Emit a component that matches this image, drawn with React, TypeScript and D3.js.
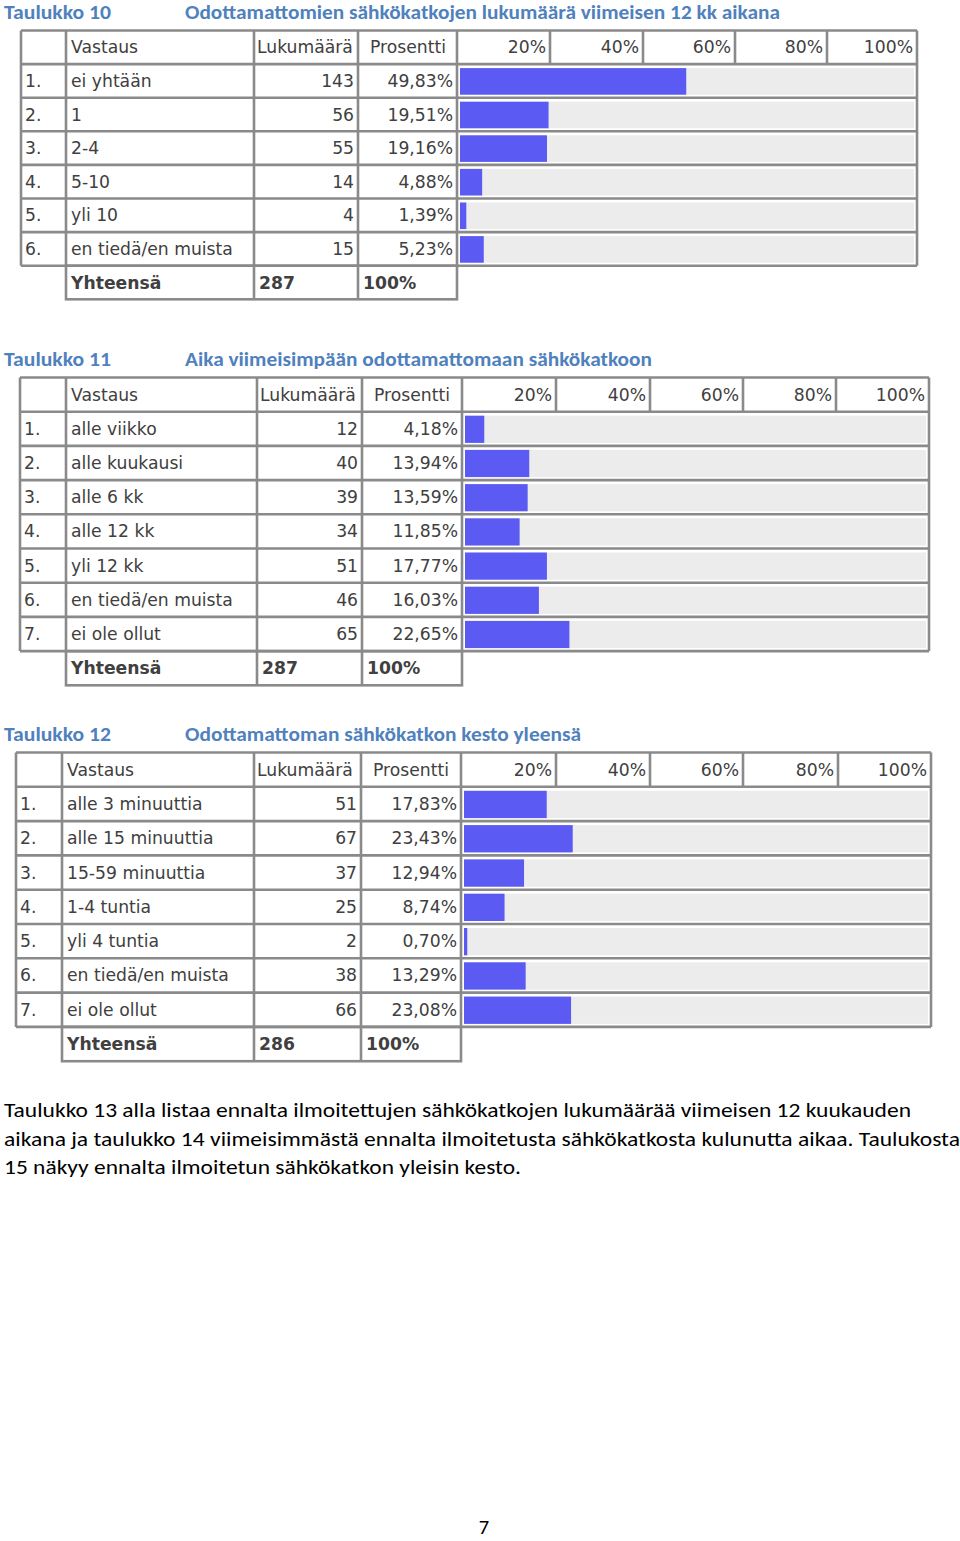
import React from "react";
import * as d3 from "d3";

// ---- Data ----
const t10Title = ["Taulukko 10", "Odottamattomien sähkökatkojen lukumäärä viimeisen 12 kk aikana"];
const t10Labels = ["ei yhtään", "1", "2-4", "5-10", "yli 10", "en tiedä/en muista"];
const t10Counts = [143, 56, 55, 14, 4, 15];
const t10Pcts = [49.83, 19.51, 19.16, 4.88, 1.39, 5.23];
const t10Total = 287;

const t11Title = ["Taulukko 11", "Aika viimeisimpään odottamattomaan sähkökatkoon"];
const t11Labels = ["alle viikko", "alle kuukausi", "alle 6 kk", "alle 12 kk", "yli 12 kk", "en tiedä/en muista", "ei ole ollut"];
const t11Counts = [12, 40, 39, 34, 51, 46, 65];
const t11Pcts = [4.18, 13.94, 13.59, 11.85, 17.77, 16.03, 22.65];
const t11Total = 287;

const t12Title = ["Taulukko 12", "Odottamattoman sähkökatkon kesto yleensä"];
const t12Labels = ["alle 3 minuuttia", "alle 15 minuuttia", "15-59 minuuttia", "1-4 tuntia", "yli 4 tuntia", "en tiedä/en muista", "ei ole ollut"];
const t12Counts = [51, 67, 37, 25, 2, 38, 66];
const t12Pcts = [17.83, 23.43, 12.94, 8.74, 0.70, 13.29, 23.08];
const t12Total = 286;

const headerLabels = ["Vastaus", "Lukumäärä", "Prosentti"];
const scaleTicks = [20, 40, 60, 80, 100];
const totalLabel = "Yhteensä";

const paragraphLines = [
  "Taulukko 13 alla listaa ennalta ilmoitettujen sähkökatkojen lukumäärää viimeisen 12 kuukauden",
  "aikana ja taulukko 14 viimeisimmästä ennalta ilmoitetusta sähkökatkosta kulunutta aikaa. Taulukosta",
  "15 näkyy ennalta ilmoitetun sähkökatkon yleisin kesto.",
];
const pageNumber = "7";

// ---- Styles ----
const BORDER = "#8a8a8a";
const BAR = "#5b5bf4";
const TRACK = "#ececec";
const TXT = "#404040";
const TITLE = "#4f81bd";
const TFONT = "'DejaVu Sans', Verdana, sans-serif";
const CFONT = "Carlito, Lato, 'Open Sans', sans-serif";

const fmt = (v: number) => d3.format(".2f")(v).replace(".", ",") + "%";

interface Geo {
  titleY: number;
  x: number[];
  top: number;
  rowH: number;
  ticksX: number[];
}

function Table({ title, labels, counts, pcts, total, g, titleLen }: {
  title: string[]; labels: string[]; counts: number[]; pcts: number[]; total: number; g: Geo; titleLen: number;
}) {
  const n = labels.length;
  const y = (i: number) => g.top + i * g.rowH;
  const bottom = y(n + 1);
  const totalBottom = bottom + g.rowH;
  const [x0, x1, x2, x3, x4, x5] = g.x;
  const xs = d3.scaleLinear().domain([0, 100]).range([x4 + 3, x5 - 3]);
  const fs = 17.2;
  const base = (i: number) => y(i) + g.rowH / 2 + 6;
  const lines: JSX.Element[] = [];
  const sw = 2.6;
  for (let i = 0; i <= n + 1; i++) {
    lines.push(<line key={"h" + i} x1={x0} x2={x5} y1={y(i)} y2={y(i)} stroke={BORDER} strokeWidth={sw} />);
  }
  [x0, x1, x2, x3, x4, x5].forEach((xx, k) =>
    lines.push(<line key={"v" + k} x1={xx} x2={xx} y1={y(0)} y2={bottom} stroke={BORDER} strokeWidth={sw} />)
  );
  g.ticksX.slice(1, -1).forEach((xx, k) =>
    lines.push(<line key={"t" + k} x1={xx} x2={xx} y1={y(0)} y2={y(1)} stroke={BORDER} strokeWidth={sw} />)
  );
  lines.push(<rect key="tot" x={x1} y={bottom} width={x4 - x1} height={g.rowH} fill="none" stroke={BORDER} strokeWidth={sw} />);
  [x2, x3].forEach((xx, k) =>
    lines.push(<line key={"tv" + k} x1={xx} x2={xx} y1={bottom} y2={totalBottom} stroke={BORDER} strokeWidth={sw} />)
  );
  return (
    <g>
      <text x={4} y={g.titleY} fontFamily={CFONT} fontWeight="bold" fontSize={20} fill={TITLE}
        textLength={107} lengthAdjust="spacingAndGlyphs">{title[0]}</text>
      <text x={185} y={g.titleY} fontFamily={CFONT} fontWeight="bold" fontSize={20} fill={TITLE}
        textLength={titleLen} lengthAdjust="spacingAndGlyphs">{title[1]}</text>
      {labels.map((_, i) => (
        <g key={"bar" + i}>
          <rect x={xs(0)} y={y(i + 1) + 4} width={xs(100) - xs(0)} height={g.rowH - 7} fill={TRACK} />
          <rect x={xs(0)} y={y(i + 1) + 4} width={xs(pcts[i]) - xs(0)} height={g.rowH - 7} fill={BAR} />
        </g>
      ))}
      {lines}
      <g fontFamily={TFONT} fontSize={fs} fill={TXT}>
        <text x={x1 + 5} y={base(0)}>{headerLabels[0]}</text>
        <text x={x2 + 3} y={base(0)}>{headerLabels[1]}</text>
        <text x={x3 + 12} y={base(0)}>{headerLabels[2]}</text>
        {scaleTicks.map((t, k) => (
          <text key={"st" + k} x={g.ticksX[k + 1] - 4} y={base(0)} textAnchor="end">{t}%</text>
        ))}
        {labels.map((l, i) => (
          <g key={"r" + i}>
            <text x={x0 + 4} y={base(i + 1)}>{i + 1}.</text>
            <text x={x1 + 5} y={base(i + 1)}>{l}</text>
            <text x={x3 - 4} y={base(i + 1)} textAnchor="end">{counts[i]}</text>
            <text x={x4 - 4} y={base(i + 1)} textAnchor="end">{fmt(pcts[i])}</text>
          </g>
        ))}
        <g fontWeight="bold">
          <text x={x1 + 5} y={base(n + 1)}>{totalLabel}</text>
          <text x={x2 + 5} y={base(n + 1)}>{total}</text>
          <text x={x3 + 5} y={base(n + 1)}>100%</text>
        </g>
      </g>
    </g>
  );
}

export default function App() {
  const g10: Geo = { titleY: 19, x: [21, 66, 254, 358, 457, 917], top: 30.5, rowH: 33.6, ticksX: [457, 550, 643, 735, 827, 917] };
  const g11: Geo = { titleY: 366, x: [20, 66, 257, 362, 462, 929], top: 377.5, rowH: 34.2, ticksX: [462, 556, 650, 743, 836, 929] };
  const g12: Geo = { titleY: 741, x: [16, 62, 254, 361, 461, 931], top: 752.5, rowH: 34.3, ticksX: [461, 556, 650, 743, 838, 931] };
  return (
    <svg width={960} height={1541} style={{ position: "absolute", left: 0, top: 0, background: "#fff" }}>
      <rect width={960} height={1541} fill="#fff" />
      <Table title={t10Title} labels={t10Labels} counts={t10Counts} pcts={t10Pcts} total={t10Total} g={g10} titleLen={595} />
      <Table title={t11Title} labels={t11Labels} counts={t11Counts} pcts={t11Pcts} total={t11Total} g={g11} titleLen={467} />
      <Table title={t12Title} labels={t12Labels} counts={t12Counts} pcts={t12Pcts} total={t12Total} g={g12} titleLen={396} />
      <g fontFamily={CFONT} fontSize={20.5} fill="#000">
        {paragraphLines.map((l, i) => (
          <text key={i} x={4} y={1117 + i * 28.5} textLength={[907, 956, 517][i]} lengthAdjust="spacingAndGlyphs">{l}</text>
        ))}
        <text x={484} y={1534} textAnchor="middle">{pageNumber}</text>
      </g>
    </svg>
  );
}
